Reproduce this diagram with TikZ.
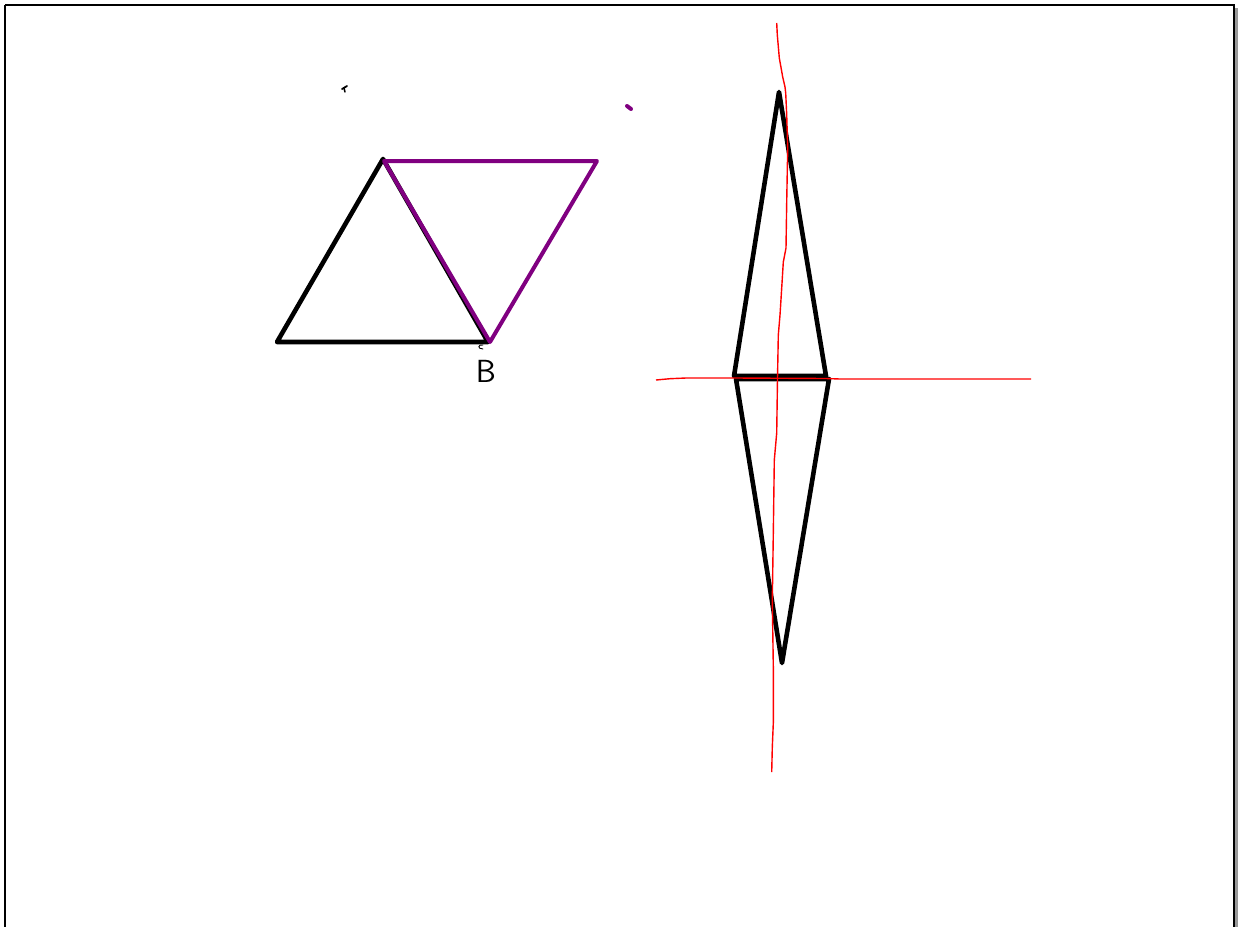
\documentclass[tikz,border=0pt]{standalone}
\definecolor{sketchpurple}{RGB}{128,0,128}
\begin{document}
\begin{tikzpicture}[x=1pt,y=-1pt,
  blk/.style={draw=black,line width=4.6pt,line join=round,line cap=round},
  prp/.style={draw=sketchpurple,line width=4pt,line join=round,line cap=round},
  redl/.style={draw=red,line width=1.4pt,line join=round},
  thin/.style={draw=black,line width=1.2pt,line cap=round}]
\useasboundingbox (0,0) rectangle (1238,926);
% frame with shadow
\fill[gray!80] (1234,8) rectangle (1238,930);
\draw[line width=2pt] (5,5) -- (1234,5) -- (1234,940);
\draw[line width=2pt] (5,5) -- (5,940);
% left triangle
\coordinate (A) at (383,159);
\coordinate (L) at (277,342);
\coordinate (R) at (488,342);
\coordinate (P1) at (384,161);
\coordinate (P2) at (597,161);
\coordinate (P3) at (490,342);
\draw[blk] (A) -- (L) -- (R) -- cycle;
\draw[prp] (P1) -- (P2) -- (P3) -- cycle;
% label B
\node[font=\fontsize{32}{32}\selectfont\sffamily, inner sep=0pt] (lblB) at (486,371) {B};
\draw[thin,line width=0.9pt] (483,345) .. controls (478,344) and (477,349) .. (483,349);
% small marks
\draw[thin,line width=1.8pt] (342,89) -- (347,86);
\draw[thin,line width=1.5pt] (344,88) -- (345,92);
\draw[draw=sketchpurple,line width=4pt,line cap=round] (627,106) -- (631,109);
% diamond
\coordinate (T) at (779,92);
\coordinate (UL) at (734,376);
\coordinate (UR) at (826,376);
\coordinate (DL) at (736,379);
\coordinate (DR) at (829,379);
\coordinate (Bt) at (782,663);
\draw[blk] (T) -- (UL) -- (UR) -- cycle;
\draw[blk] (DL) -- (DR) -- (Bt) -- cycle;
% red axes
\draw[redl] (776.7,23) -- (777.3,35) -- (779.3,58) -- (782.7,77) -- (785,87) -- (785.7,93)
  -- (786.7,115) -- (787.7,148) -- (786.7,202) -- (786,248) -- (783.3,262) -- (781.7,288)
  -- (780,315) -- (778.3,335) -- (777.5,378) -- (776.7,433) -- (774.3,460) -- (773.3,533)
  -- (772.3,600) -- (773.3,667) -- (773.3,723) -- (772.3,747) -- (771.7,772);
\draw[redl] (656,380) -- (670,378.7) -- (686,378) -- (735,378) -- (826,378.5) -- (840,379) -- (1031,379);
\end{tikzpicture}
\end{document}
